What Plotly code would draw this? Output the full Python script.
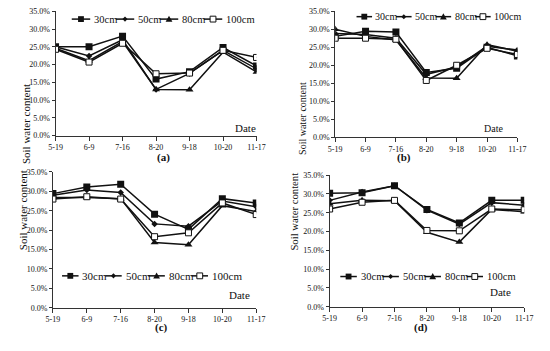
import plotly.graph_objects as go

dates = ["5-19", "6-9", "7-16", "8-20", "9-18", "10-20", "11-17"]
depths = ["30cm", "50cm", "80cm", "100cm"]

# panel (a)
a_30 = [25.0, 25.0, 28.0, 15.9, 18.0, 24.8, 19.6]
a_50 = [25.0, 22.4, 27.0, 13.0, 17.5, 24.0, 18.8]
a_80 = [24.6, 21.1, 26.5, 13.0, 12.9, 23.5, 17.9]
a_100 = [24.3, 20.7, 26.0, 17.4, 17.6, 24.0, 22.0]
# panel (b)
b_30 = [28.0, 29.4, 29.2, 18.0, 19.2, 25.0, 22.6]
b_50 = [28.8, 28.5, 27.5, 17.5, 19.5, 25.3, 24.2]
b_80 = [30.0, 28.0, 27.0, 16.5, 16.4, 25.7, 23.9]
b_100 = [27.5, 27.5, 27.2, 15.8, 20.0, 24.7, 23.0]
# panel (c)
c_30 = [29.4, 31.1, 31.8, 24.1, 20.2, 28.1, 27.0]
c_50 = [29.0, 30.3, 29.7, 21.6, 21.0, 27.5, 26.0]
c_80 = [28.4, 28.4, 28.1, 16.8, 16.2, 26.3, 24.8]
c_100 = [28.0, 28.6, 28.0, 18.3, 19.3, 27.0, 24.0]
# panel (d)
d_30 = [30.2, 30.3, 32.2, 25.9, 22.3, 28.3, 28.3]
d_50 = [28.3, 30.5, 32.2, 25.7, 22.0, 27.7, 27.0]
d_80 = [27.4, 28.3, 28.2, 19.8, 17.2, 25.9, 25.3]
d_100 = [26.0, 27.8, 28.3, 20.3, 20.2, 26.0, 25.8]

panels = [
    ("(a)", [a_30, a_50, a_80, a_100]),
    ("(b)", [b_30, b_50, b_80, b_100]),
    ("(c)", [c_30, c_50, c_80, c_100]),
    ("(d)", [d_30, d_50, d_80, d_100]),
]

W, H = 550, 351
def px(x): return x / W
def py(y): return (H - y) / H

# plot areas in pixel coords: left, right, bottom(0%), top(35%)
areas = [
    (50, 257, 135, 7.5),
    (338, 525.7, 137, 7.3),
    (47.3, 256.7, 311.7, 172.3),
    (332.3, 532.7, 310.7, 175.7),
]
# legend: start x, centre y, font size, line length, gap
legend_pos = [(66.7, 15.5, 10.5, 19, 3), (360, 13, 10, 16, 2.5),
              (56.7, 279, 11, 17, 3), (343.3, 279.7, 10.5, 17, 3)]
date_pos = [(245.5, 127.7, 11), (511.7, 127.7, 10), (239.7, 305.7, 11), (519.7, 302.7, 11)]
label_pos = [(153, 158), (416.7, 158), (151.7, 340), (434.3, 340)]
ytitle_pos = [(11.7, 80.8, 11), (304.3, 79, 10), (10, 254, 11), (295.7, 254, 10.7)]

INK = "#111"
markers = [
    dict(symbol="square", size=7, color=INK),
    dict(symbol="diamond", size=5, color=INK),
    dict(symbol="triangle-up", size=7, color=INK),
    dict(symbol="square", size=6, color="white", line=dict(width=1, color=INK)),
]
text_em = {"30cm": 2.222, "50cm": 2.222, "80cm": 2.222, "100cm": 2.722}

FONT = "Liberation Serif"
fig = go.Figure()
layout = dict(width=W, height=H, margin=dict(l=0, r=0, t=0, b=0),
              paper_bgcolor="white", plot_bgcolor="white", showlegend=False,
              font=dict(family=FONT, color=INK))
annotations = []
shapes = []


def legend_key(kind, cx, cy):
    # small legend glyphs in paper coordinates
    if kind == 0:
        h = 3
        shapes.append(dict(type="rect", xref="paper", yref="paper", x0=px(cx - h), x1=px(cx + h),
                           y0=py(cy + h), y1=py(cy - h), fillcolor=INK, line=dict(width=0)))
    elif kind == 1:
        h = 2.6
        p = f"M{px(cx - h)},{py(cy)} L{px(cx)},{py(cy - h)} L{px(cx + h)},{py(cy)} L{px(cx)},{py(cy + h)} Z"
        shapes.append(dict(type="path", xref="paper", yref="paper", path=p, fillcolor=INK,
                           line=dict(width=0)))
    elif kind == 2:
        h = 3.5
        p = f"M{px(cx - h)},{py(cy + h * 0.8)} L{px(cx + h)},{py(cy + h * 0.8)} L{px(cx)},{py(cy - h)} Z"
        shapes.append(dict(type="path", xref="paper", yref="paper", path=p, fillcolor=INK,
                           line=dict(width=0)))
    else:
        h = 3
        shapes.append(dict(type="rect", xref="paper", yref="paper", x0=px(cx - h), x1=px(cx + h),
                           y0=py(cy + h), y1=py(cy - h), fillcolor="white",
                           line=dict(width=1, color=INK)))


for i, (lab, series) in enumerate(panels):
    n = "" if i == 0 else str(i + 1)
    for d, vals, mk in zip(depths, series, markers):
        fig.add_trace(go.Scatter(x=dates, y=vals, name=d, mode="lines+markers",
                                 line=dict(color=INK, width=1.5), marker=mk,
                                 xaxis="x" + n, yaxis="y" + n))
    l, r, b, t = areas[i]
    layout["xaxis" + n] = dict(domain=[px(l), px(r)], anchor="y" + n, type="category",
                               range=[0, 6], showline=True, linecolor="#333", linewidth=1,
                               ticks="outside", ticklen=4, tickcolor="#333",
                               tickfont=dict(size=8, family=FONT, color=INK),
                               showgrid=False, zeroline=False, fixedrange=True)
    layout["yaxis" + n] = dict(domain=[py(b), py(t)], anchor="x" + n, range=[0, 35],
                               dtick=5, tickformat=".1f", ticksuffix="%",
                               showline=True, linecolor="#333", linewidth=1,
                               ticks="outside", ticklen=3, tickcolor="#333",
                               tickfont=dict(size=8, family=FONT, color=INK),
                               showgrid=False, zeroline=False, fixedrange=True)
    # custom legend
    sx, sy, fs, L, g = legend_pos[i]
    x = sx
    for k, d in enumerate(depths):
        shapes.append(dict(type="line", xref="paper", yref="paper", x0=px(x), x1=px(x + L),
                           y0=py(sy), y1=py(sy), line=dict(color=INK, width=1.5)))
        legend_key(k, x + L / 2, sy)
        tx = x + L + g
        annotations.append(dict(x=px(tx), y=py(sy), xref="paper", yref="paper", text=d,
                                xanchor="left", yanchor="middle", showarrow=False,
                                font=dict(size=fs, family=FONT, color=INK), borderpad=0))
        x = tx + text_em[d] * fs
    dx, dy, ds = date_pos[i]
    annotations.append(dict(x=px(dx), y=py(dy), xref="paper", yref="paper", text="Date",
                            showarrow=False, borderpad=0,
                            font=dict(size=ds, family=FONT, color=INK)))
    bx, by = label_pos[i]
    annotations.append(dict(x=px(bx), y=py(by), xref="paper", yref="paper", text="<b>" + lab + "</b>",
                            showarrow=False, borderpad=0,
                            font=dict(size=11, family=FONT, color=INK)))
    tx, ty, ts = ytitle_pos[i]
    annotations.append(dict(x=px(tx), y=py(ty), xref="paper", yref="paper", text="Soil water content",
                            textangle=-90, showarrow=False, borderpad=0,
                            font=dict(size=ts, family=FONT, color=INK)))

layout["annotations"] = annotations
layout["shapes"] = shapes
fig.update_layout(**layout)
fig.write_html("out.html", config={"displayModeBar": False},
               post_script="document.body.style.margin='0';")
